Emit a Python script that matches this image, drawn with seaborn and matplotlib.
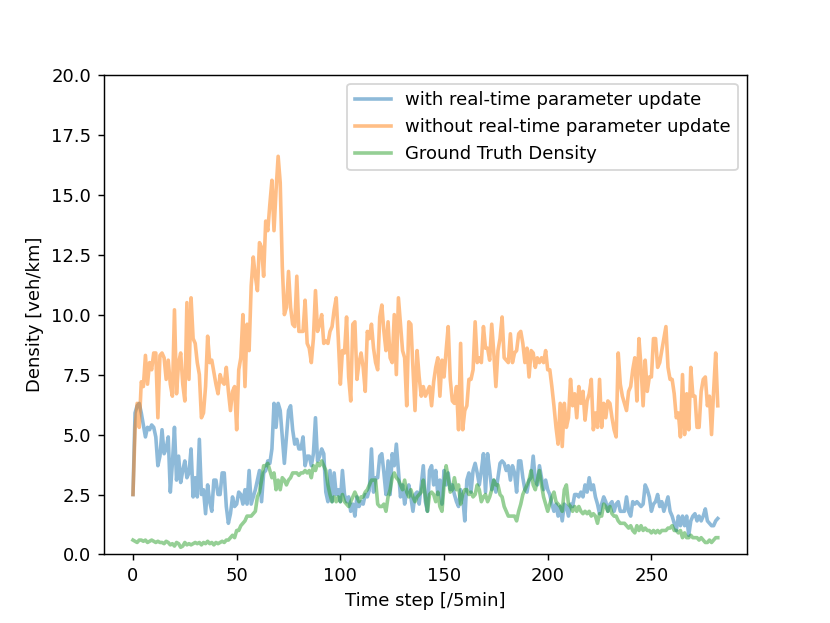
import numpy as np
import pandas as pd
import matplotlib
matplotlib.use("Agg")
import matplotlib.pyplot as plt
import seaborn as sns

# density estimates per 5-min step
with_update = [
    2.5, 5.9, 6.2, 6.3, 5.9, 5.4, 4.9, 5.3, 5.2, 5.4,
    5.3, 4.9, 3.7, 4.1, 5.2, 4.2, 4.4, 4.9, 2.6,
    3.8, 5.3, 3.1, 4.1, 3.0, 3.5, 3.9, 3.2, 3.4, 4.4,
    2.4, 3.2, 2.4, 4.8, 2.5, 2.7, 1.7, 2.9, 2.2,
    1.8, 3.1, 3.1, 2.5, 2.5, 3.4, 3.4, 2.0, 1.3, 1.7,
    2.4, 2.0, 2.1, 2.6, 2.5, 2.1, 2.7, 2.1, 3.5, 2.1,
    2.4, 2.7, 3.1, 3.5, 2.2, 3.4, 3.5, 3.9, 3.8,
    4.4, 6.3, 5.3, 6.3, 6.0, 4.9, 3.8, 4.9, 6.0, 6.2,
    5.2, 4.6, 4.8, 4.4, 4.4, 4.9, 3.7, 4.1, 4.1, 3.7,
    4.2, 5.7, 3.9, 4.1, 4.4, 4.2, 2.6, 2.2, 3.5,
    2.2, 3.4, 2.5, 2.7, 2.2, 3.5, 2.5, 2.2, 2.4, 1.8,
    2.1, 1.6, 2.4, 2.0, 2.2, 2.1, 2.5, 2.4, 2.7,
    4.4, 2.6, 3.2, 3.2, 4.1, 4.2, 3.4, 2.5, 3.9, 2.5,
    4.2, 3.7, 4.6, 3.5, 2.4, 2.9, 2.1, 2.6, 2.9, 2.4,
    1.8, 2.5, 2.6, 2.1, 2.9, 3.7, 2.2, 1.8, 3.5,
    3.7, 2.9, 3.5, 2.5, 3.1, 2.1, 3.5, 2.9, 3.4, 2.7,
    2.9, 2.5, 2.2, 2.0, 2.7, 2.4, 1.4, 3.1, 3.4,
    2.6, 3.5, 3.8, 3.4, 2.9, 3.5, 4.2, 2.6, 4.2, 3.5,
    2.7, 3.1, 2.6, 3.2, 3.8, 3.9, 3.8, 3.5, 3.7, 3.1,
    3.7, 3.4, 2.6, 3.9, 3.9, 3.2, 2.7, 2.6, 3.1,
    3.2, 4.1, 3.1, 2.9, 3.7, 3.2, 2.7, 3.1, 2.7, 2.5,
    2.1, 1.8, 2.1, 1.6, 2.0, 1.4, 2.1, 2.0, 1.6,
    2.1, 2.0, 2.5, 2.5, 2.4, 2.6, 2.4, 2.9, 2.6, 3.2,
    2.7, 2.9, 2.4, 2.1, 1.7, 2.1, 2.4, 2.2, 1.8, 2.1,
    2.2, 1.8, 2.1, 2.2, 1.8, 1.8, 1.8, 2.4, 1.8,
    1.6, 2.2, 2.1, 2.2, 2.1, 2.0, 2.1, 2.9, 2.7, 2.4,
    1.8, 2.1, 2.2, 2.5, 2.0, 2.2, 1.8, 2.1, 2.4,
    1.8, 1.6, 1.3, 1.0, 1.6, 1.2, 1.6, 1.2, 1.6, 0.8,
    1.4, 1.6, 1.7, 1.4, 1.6, 1.4, 1.6, 1.9, 1.4, 1.3,
    1.2, 1.2, 1.4, 1.5,
]

without_update = [
    2.5, 5.2, 6.3, 5.3, 7.2, 7.0, 8.3, 7.1, 8.0, 7.7,
    8.4, 8.4, 5.7, 8.3, 8.4, 8.2, 7.3, 8.1, 7.1,
    6.6, 10.2, 6.7, 8.0, 8.4, 7.1, 6.4, 10.5, 7.3, 10.7,
    9.0, 8.8, 8.0, 7.5, 5.7, 5.9, 7.0, 9.1, 8.0,
    8.1, 7.6, 7.1, 6.7, 7.5, 7.2, 7.1, 7.8, 6.8, 6.0,
    6.8, 7.0, 5.2, 7.7, 8.2, 10.0, 7.0, 9.6, 8.5, 11.2,
    12.4, 11.6, 11.0, 13.0, 12.8, 11.6, 13.9, 13.5, 14.6,
    15.6, 13.5, 15.2, 16.6, 15.5, 12.0, 10.0, 10.3, 11.8, 10.3,
    9.6, 9.5, 11.6, 9.3, 9.3, 9.3, 10.6, 8.8, 8.6, 8.0,
    9.0, 11.0, 9.3, 9.6, 10.0, 8.8, 8.9, 8.8, 9.3,
    9.5, 10.2, 10.7, 9.0, 7.1, 8.5, 8.4, 9.9, 7.4, 6.4,
    9.6, 9.7, 7.3, 8.0, 8.4, 7.8, 6.8, 9.3, 9.0,
    9.6, 8.6, 8.0, 7.7, 9.9, 10.4, 9.3, 8.5, 9.7, 8.2,
    8.0, 10.0, 7.5, 10.7, 9.6, 8.5, 8.2, 6.2, 9.7, 9.6,
    7.8, 6.0, 8.5, 7.4, 6.6, 7.0, 6.6, 6.8, 7.0,
    6.2, 7.2, 7.8, 8.2, 6.6, 8.1, 7.4, 8.5, 9.5, 7.3,
    6.4, 6.3, 7.0, 5.2, 8.8, 5.2, 6.0, 6.2, 7.3,
    7.3, 7.7, 9.7, 8.0, 8.2, 8.0, 9.5, 8.6, 8.6, 8.1,
    9.6, 8.4, 7.0, 8.5, 9.0, 9.9, 8.2, 8.1, 8.0, 9.2,
    8.0, 8.4, 8.5, 9.2, 9.3, 8.8, 8.0, 8.6, 7.4,
    8.5, 8.4, 7.8, 8.2, 8.0, 8.2, 8.0, 8.5, 7.7, 7.7,
    7.0, 6.2, 5.3, 4.6, 6.3, 4.5, 6.3, 5.3, 5.7,
    7.3, 6.2, 6.7, 5.7, 7.0, 6.3, 6.8, 5.6, 6.4, 6.7,
    7.3, 5.2, 5.9, 5.3, 7.3, 5.3, 6.3, 5.7, 6.4, 6.3,
    5.7, 5.2, 4.9, 8.4, 7.1, 6.6, 6.3, 6.0, 6.8,
    7.0, 7.7, 8.2, 6.4, 9.0, 7.8, 6.2, 8.1, 6.8, 7.4,
    7.4, 9.0, 9.0, 7.8, 8.0, 8.5, 9.0, 9.5, 7.8,
    7.3, 7.3, 6.7, 5.7, 5.9, 4.9, 7.5, 5.0, 6.7, 5.2,
    7.8, 6.6, 6.6, 5.3, 5.3, 6.8, 7.3, 7.4, 6.2, 6.6,
    5.0, 6.8, 8.4, 6.2,
]

ground_truth = [
    0.6, 0.55, 0.5, 0.6, 0.6, 0.55, 0.6, 0.5, 0.55, 0.6,
    0.55, 0.5, 0.55, 0.5, 0.5, 0.45, 0.55, 0.5, 0.4,
    0.45, 0.35, 0.5, 0.45, 0.3, 0.35, 0.5, 0.4, 0.45, 0.4,
    0.45, 0.5, 0.45, 0.5, 0.4, 0.5, 0.45, 0.55, 0.45,
    0.5, 0.4, 0.5, 0.45, 0.5, 0.55, 0.5, 0.6, 0.6, 0.7,
    0.8, 0.7, 1.0, 1.0, 1.2, 1.3, 1.4, 1.6, 1.6, 1.6,
    1.7, 1.8, 2.4, 2.6, 3.1, 3.7, 3.7, 3.8, 3.5,
    3.2, 3.4, 2.7, 3.1, 2.7, 3.2, 3.1, 2.9, 3.1, 3.2,
    3.4, 3.4, 3.4, 3.3, 3.4, 3.4, 3.5, 3.4, 3.5, 3.2,
    3.7, 3.5, 3.8, 3.7, 3.9, 3.7, 3.5, 2.9, 2.5,
    2.2, 2.4, 2.2, 2.4, 2.2, 2.5, 2.2, 2.1, 2.0, 2.2,
    2.4, 2.6, 2.4, 2.2, 2.4, 2.4, 2.6, 2.7, 2.9,
    3.1, 3.1, 3.1, 2.1, 2.0, 2.0, 2.1, 1.8, 2.4, 2.7,
    3.2, 3.4, 3.2, 3.1, 2.9, 2.7, 3.1, 2.6, 2.4, 2.7,
    2.4, 2.2, 2.4, 2.5, 2.6, 3.1, 2.4, 1.8, 2.5,
    2.6, 2.5, 2.2, 2.6, 2.0, 1.8, 2.9, 3.7, 3.2, 2.6,
    2.7, 3.2, 2.7, 2.9, 2.1, 2.5, 2.7, 2.7, 2.5,
    2.6, 2.4, 2.5, 2.9, 2.7, 2.2, 2.4, 2.5, 2.2, 2.4,
    2.7, 3.1, 2.9, 2.9, 2.5, 2.4, 2.0, 1.8, 1.6, 1.6,
    1.6, 1.6, 1.4, 1.8, 2.1, 2.5, 2.7, 2.9, 3.1,
    3.5, 2.9, 2.7, 3.1, 3.5, 2.9, 2.4, 2.1, 1.8, 2.1,
    2.4, 2.6, 2.2, 2.1, 2.0, 1.8, 2.7, 2.9, 2.1,
    2.0, 1.8, 2.0, 1.8, 2.0, 1.8, 1.7, 1.8, 1.7, 1.8,
    1.6, 1.7, 1.6, 1.3, 1.7, 1.6, 2.1, 2.0, 1.8, 2.0,
    1.7, 1.6, 1.6, 1.4, 1.3, 1.3, 1.3, 1.2, 1.1,
    1.2, 1.0, 0.9, 1.2, 1.0, 1.2, 1.0, 1.1, 1.0, 1.0,
    0.9, 1.0, 0.9, 1.0, 0.9, 1.0, 1.0, 1.0, 1.1,
    1.1, 1.2, 1.0, 1.0, 0.9, 1.0, 0.7, 0.9, 0.7, 0.7,
    0.8, 0.7, 0.7, 0.7, 0.6, 0.7, 0.6, 0.5, 0.5, 0.6,
    0.5, 0.6, 0.7, 0.7,
]

labels = ['with real-time parameter update',
          'without real-time parameter update',
          'Ground Truth Density']

print(len(with_update), len(without_update), len(ground_truth))

#%%
fig, ax = plt.subplots(figsize=(830/130, 623/130), dpi=130)

series = [with_update, without_update, ground_truth]
colors = ['tab:blue', 'tab:orange', 'tab:green']
for vals, lab, c in zip(series, labels, colors):
    steps = np.arange(len(vals))
    sns.lineplot(x=steps, y=vals, ax=ax, label=lab, color=c, alpha=0.5, linewidth=2)

ax.set_ylim(0, 20)
ax.set_xlabel('Time step [/5min]')
ax.set_ylabel('Density [veh/km]')
ax.legend(loc='upper right')

plt.savefig('out.png', dpi=130)
